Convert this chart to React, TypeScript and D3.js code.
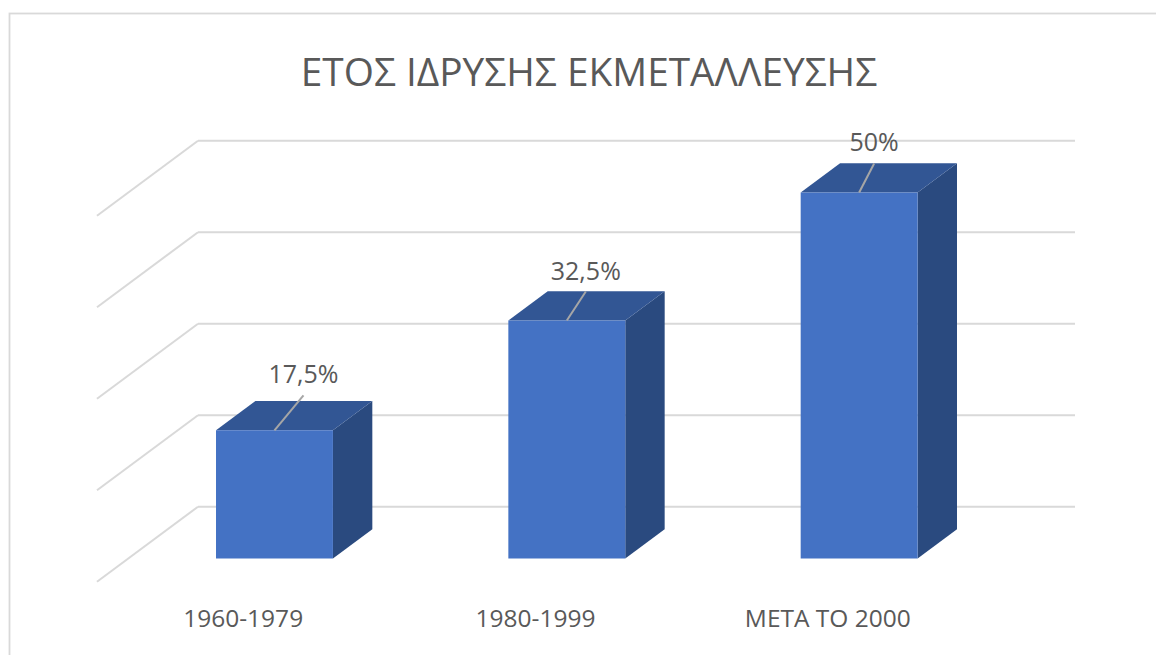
import React from "react";
import * as d3 from "d3";

const categories: string[] = ["1960-1979", "1980-1999", "ΜΕΤΑ ΤΟ 2000"];
const values: number[] = [0.175, 0.325, 0.5];
const valueLabels: string[] = ["17,5%", "32,5%", "50%"];
const gridTicks: number[] = [0, 0.125, 0.25, 0.375, 0.5];
const title = "ΕΤΟΣ ΙΔΡΥΣΗΣ ΕΚΜΕΤΑΛΛΕΥΣΗΣ";

// layout constants
const W = 1156;
const H = 655;
const wallLeft = 198;
const wallRight = 1075;
const baseY = 506.7; // back-wall zero line
const depthDx = -101; // floor depth vector (back -> front)
const depthDy = 75;
const barZ0 = 0.3;
const barZ1 = 0.69;
const labelDx = [29, 19, 15];
const labelDy = [-47, -41, -41];

const FONT = "'Open Sans', 'Noto Sans', sans-serif";
const TEXT = "#595959";
const GRID = "#d9d9d9";

export default function App() {
  const x = d3.scaleBand<string>().domain(categories).range([wallLeft, wallRight]).padding(0);
  const y = d3.scaleLinear().domain([0, 0.5]).range([0, 366]);
  const bw = x.bandwidth() * 0.4;

  const proj = (px: number, z: number, h: number): [number, number] => [
    px + depthDx * z,
    baseY + depthDy * z - h,
  ];
  const pts = (arr: [number, number][]) => arr.map((p) => p.join(",")).join(" ");

  return (
    <svg
      width={W}
      height={H}
      style={{ position: "absolute", left: 0, top: 0, background: "#fff" }}
      fontFamily={FONT}
    >
      <rect x={0} y={0} width={W} height={H} fill="#fff" />
      <rect x={9.5} y={13.5} width={W + 50} height={H + 50} fill="none" stroke={GRID} strokeWidth={1.8} />
      <text x={589} y={86} textAnchor="middle" fontSize={38.8} fill={TEXT}>
        {title}
      </text>

      {gridTicks.map((t, i) => {
        const yb = baseY - y(t);
        return (
          <g key={i}>
            <line x1={wallLeft} x2={wallRight} y1={yb} y2={yb} stroke={GRID} strokeWidth={2} />
            <line
              x1={wallLeft}
              y1={yb}
              x2={wallLeft + depthDx}
              y2={yb + depthDy}
              stroke={GRID}
              strokeWidth={2}
            />
          </g>
        );
      })}

      {values.map((v, i) => {
        const cat = categories[i];
        const cx = (x(cat) as number) + x.bandwidth() / 2;
        const l = cx - bw / 2;
        const r = cx + bw / 2;
        const h = y(v);
        const fTL = proj(l, barZ1, h);
        const fTR = proj(r, barZ1, h);
        const fBR = proj(r, barZ1, 0);
        const fBL = proj(l, barZ1, 0);
        const bTL = proj(l, barZ0, h);
        const bTR = proj(r, barZ0, h);
        const bBR = proj(r, barZ0, 0);
        const topC = proj(cx, barZ1, h);
        const lx = topC[0] + labelDx[i];
        const ly = topC[1] + labelDy[i];
        return (
          <g key={cat}>
            <polygon points={pts([fTR, bTR, bBR, fBR])} fill="#2a4a7f" />
            <polygon points={pts([fTL, bTL, bTR, fTR])} fill="#325694" />
            <polygon points={pts([fTL, fTR, fBR, fBL])} fill="#4472c4" />
            <line x1={topC[0]} y1={topC[1]} x2={lx} y2={ly + 12} stroke="#a6a6a6" strokeWidth={2} />
            <text x={lx} y={ly} textAnchor="middle" fontSize={25} fill={TEXT}>
              {valueLabels[i]}
            </text>
          </g>
        );
      })}

      {categories.map((c) => {
        const cx = (x(c) as number) + x.bandwidth() / 2 + depthDx;
        return (
          <text key={c} x={cx} y={626.7} textAnchor="middle" fontSize={24.5} fill={TEXT}>
            {c}
          </text>
        );
      })}
    </svg>
  );
}
